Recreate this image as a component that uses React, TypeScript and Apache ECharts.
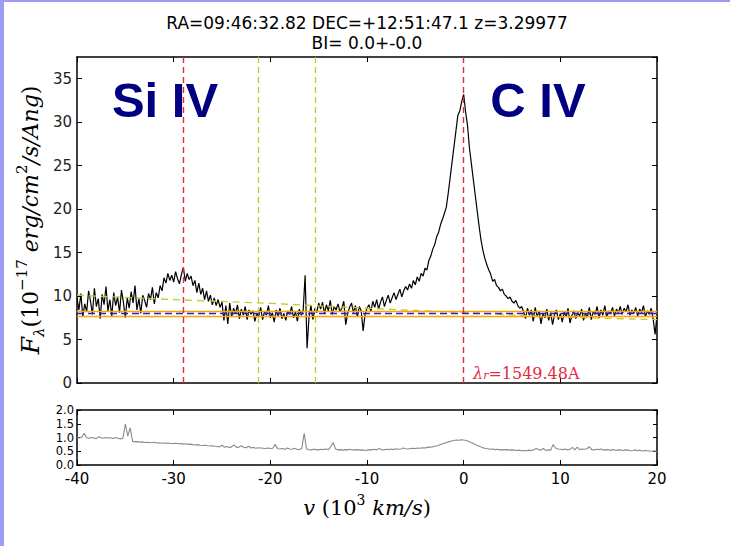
import React, { useEffect, useRef } from "react";
import * as echarts from "echarts";

// ---- data ----
const V_START = -40;
const V_STEP = 0.2; // 10^3 km/s per flux sample
const flux = [
  // -40.0 .. -33.0
  9.8, 8.4, 10.3, 7.6, 9.1, 8.2, 10.6, 9.4, 7.9, 10.9, 8.8, 9.7, 7.4, 10.2, 9.0, 11.1, 8.3, 9.6, 7.7, 10.4,
  8.9, 9.9, 8.1, 10.7, 9.3, 7.5, 9.8, 8.6, 10.5, 9.2, 11.2, 8.4, 9.7, 8.0, 10.1, 9.5,
  // -32.8 .. -31.6
  8.7, 10.3, 9.6, 11.0, 9.1, 10.4, 9.8,
  // -31.4 .. -28.0 (Si IV bump)
  11.2, 10.6, 12.1, 11.5, 12.6, 11.8, 12.4, 11.6, 12.8, 12.0, 11.4, 12.5, 13.3, 11.7, 12.6, 11.9, 12.3, 11.2,
  // -27.8 .. -25.0
  11.8, 10.4, 11.5, 10.2, 10.9, 9.6, 10.6, 9.4, 10.1, 9.0, 9.8, 8.9, 9.6, 8.7, 9.3,
  // -24.8 .. -22.0
  7.2, 8.9, 6.8, 9.2, 7.6, 8.6, 8.0, 9.0, 7.4, 8.5, 7.8, 8.8, 7.3, 8.4, 7.9,
  // -21.8 .. -16.8
  8.3, 7.1, 8.0, 7.6, 8.7, 7.3, 8.2, 7.8, 8.9, 7.5, 8.1, 7.0, 8.4, 7.7, 8.6, 7.4, 8.0, 7.2, 8.3, 7.9,
  8.8, 7.5, 8.2, 7.1, 8.5, 7.8,
  // -16.6 .. -15.0
  8.4, 12.4, 4.0, 7.6, 8.9, 7.3, 8.6, 8.1, 9.2,
  // -14.8 .. -10.0
  8.5, 9.3, 8.0, 9.0, 8.3, 9.5, 7.9, 8.8, 8.4, 9.1, 8.2, 8.6, 9.4, 6.7, 8.0, 8.7, 9.2, 8.1, 8.9, 7.6,
  8.8, 8.3, 6.0, 7.9, 8.6,
  // -9.8 .. -6.0
  9.0, 8.2, 9.4, 8.7, 9.6, 8.5, 9.3, 9.9, 8.8, 9.5, 10.1, 9.2, 9.8, 10.4, 9.6, 10.2, 10.8, 9.9, 10.6, 11.1,
  // -5.8 .. -2.0
  10.7, 11.4, 10.9, 11.8, 11.3, 12.2, 11.7, 12.6, 12.3, 13.2, 13.0, 14.1, 14.6, 15.4, 15.9, 16.8, 17.3, 18.2, 18.8, 19.5,
  // -1.8 .. 0.0 (C IV peak)
  20.2, 21.8, 23.6, 25.4, 27.2, 29.0, 30.8, 31.3, 32.4, 33.2,
  // 0.2 .. 2.0
  31.2, 29.6, 27.0, 25.2, 23.4, 21.6, 19.8, 18.0, 16.4, 15.2,
  // 2.2 .. 6.0
  14.3, 13.6, 13.0, 12.5, 11.7, 11.9, 11.2, 11.0, 10.6, 10.8, 10.2, 10.0, 9.7, 9.9, 9.4, 9.2, 9.5, 8.9, 8.6, 8.8,
  // 6.2 .. 20.0
  8.2, 7.4, 8.6, 7.8, 8.4, 7.1, 8.7, 7.6, 8.3, 6.8,
  8.0, 7.5, 8.5, 7.2, 8.1, 6.7, 7.9, 8.4, 7.3, 8.0,
  7.0, 8.2, 7.6, 8.6, 6.9, 7.8, 8.3, 7.4, 8.1, 7.7,
  8.5, 7.2, 8.0, 7.6, 8.7, 7.3, 8.2, 7.9, 8.8, 7.5,
  8.4, 7.8, 8.9, 7.6, 8.3, 8.0, 8.7, 7.7, 8.5, 8.1,
  8.8, 7.9, 8.6, 8.2, 9.0, 7.8, 8.4, 8.0, 8.7, 7.7,
  8.5, 8.1, 8.9, 7.6, 8.3, 7.9, 8.6, 7.4, 5.6, 7.8,
];

const ERR_STEP = 0.25;
const fluxErr = [
  1.0, 0.98, 1.02, 1.15, 0.99, 0.97, 1.0, 0.98, 0.96, 1.03, 0.99, 0.97, 1.0, 0.98, 0.99, 0.96, 1.0, 0.97, 0.95, 0.97,
  1.5, 1.05, 1.35, 0.86, 0.84, 0.85, 0.83, 0.84, 0.82, 0.83, 0.82, 0.81, 0.83, 0.8, 0.81, 0.8, 0.79, 0.8, 0.79, 0.78,
  0.78, 0.79, 0.77, 0.78, 0.76, 0.77, 0.75, 0.76, 0.74, 0.73, 0.74, 0.72, 0.71, 0.72, 0.7, 0.69, 0.7, 0.68, 0.67, 0.66,
  0.72, 0.65, 0.67, 0.64, 0.66, 0.73, 0.64, 0.65, 0.7, 0.64, 0.63, 0.68, 0.62, 0.64, 0.61, 0.63, 0.62, 0.61, 0.6, 0.62,
  0.6, 0.61, 0.75, 0.59, 0.58, 0.6, 0.57, 0.62, 0.58, 0.57, 0.61, 0.57, 0.56, 0.6, 1.15, 0.58, 0.56, 0.55, 0.57, 0.56,
  0.55, 0.57, 0.56, 0.58, 0.56, 0.66, 0.82, 0.58, 0.55, 0.56, 0.54, 0.56, 0.55, 0.57, 0.54, 0.55, 0.56, 0.54, 0.55, 0.53,
  0.54, 0.56, 0.55, 0.57, 0.55, 0.6, 0.56, 0.55, 0.57, 0.56, 0.58, 0.56, 0.59, 0.57, 0.58, 0.62, 0.59, 0.58, 0.6, 0.61,
  0.6, 0.62, 0.61, 0.63, 0.62, 0.64, 0.65, 0.66, 0.68, 0.7, 0.73, 0.76, 0.79, 0.82, 0.85, 0.87, 0.89, 0.91, 0.9, 0.92,
  0.91, 0.89, 0.86, 0.82, 0.78, 0.74, 0.7, 0.66, 0.63, 0.6, 0.59, 0.57, 0.58, 0.56, 0.57, 0.55, 0.56, 0.55, 0.56, 0.54,
  0.55, 0.54, 0.53, 0.54, 0.52, 0.53, 0.52, 0.54, 0.53, 0.55, 0.6, 0.56, 0.54, 0.6, 0.53, 0.55, 0.54, 0.74, 0.62, 0.58,
  0.57, 0.56, 0.58, 0.55, 0.57, 0.64, 0.55, 0.65, 0.56, 0.58, 0.57, 0.59, 0.67, 0.56, 0.55, 0.57, 0.56, 0.58, 0.54, 0.56,
  0.55, 0.54, 0.56, 0.53, 0.55, 0.54, 0.53, 0.55, 0.54, 0.52, 0.53, 0.55, 0.52, 0.54, 0.51, 0.53, 0.52, 0.51, 0.5, 0.52, 0.48,
];

const contV = [-40, -30, -20, -10, 0, 10, 20];
const contF = [10.1, 9.6, 9.15, 8.6, 8.1, 7.6, 7.3];

const redLines = [-29, 0];
const yellowLines = [-21.3, -15.4];
const orangeLevels = [8.3, 7.7];
const blueLevel = 8.0;

const titleLines = ["RA=09:46:32.82 DEC=+12:51:47.1 z=3.29977", "BI= 0.0+-0.0"];
const lineNames = ["Si IV", "C IV"];
const restWave = "1549.48A";

// ---- styles ----
const RED = "#e42a40";
const YEL = "#c8c828";
const ORANGE = "#ffa500";
const BLUE = "#2020e0";
const NAVY = "#000080";
const SANS = "DejaVu Sans";
const SERIF = "DejaVu Serif";

export default function App() {
  const ref = useRef<HTMLDivElement>(null);

  useEffect(() => {
    document.body.style.margin = "0";
    const chart = echarts.init(ref.current!, null, { renderer: "svg" });

    const specData = flux.map((f, i) => [+(V_START + i * V_STEP).toFixed(2), f]);
    const errData = fluxErr.map((e, i) => [+(V_START + i * ERR_STEP).toFixed(2), e]);
    const contData = contV.map((v, i) => [v, contF[i]]);

    const frame = { show: true, onZero: false, lineStyle: { color: "#000", width: 1.5 } };
    const tick = { show: true, inside: true, length: 5, lineStyle: { color: "#000", width: 1 } };

    const xCommon = {
      type: "value",
      min: -40,
      max: 20,
      interval: 10,
      axisLine: frame,
      axisTick: tick,
      splitLine: { show: false },
    };

    const markLines = [
      ...orangeLevels.map((y) => ({ yAxis: y, lineStyle: { color: ORANGE, type: "solid", width: 1.3 } })),
      { yAxis: blueLevel, lineStyle: { color: BLUE, type: [7, 4], width: 1.4 } },
      ...redLines.map((x) => ({ xAxis: x, lineStyle: { color: RED, type: [6, 4], width: 1.4 } })),
      ...yellowLines.map((x) => ({ xAxis: x, lineStyle: { color: YEL, type: [6, 4], width: 1.3 } })),
    ];

    chart.setOption({
      animation: false,
      backgroundColor: "#fff",
      grid: [
        { left: 77, top: 57, width: 580, height: 326 },
        { left: 77, top: 410, width: 580, height: 55 },
      ],
      xAxis: [
        { ...xCommon, gridIndex: 0, position: "bottom", axisLabel: { show: false } },
        { ...xCommon, gridIndex: 0, position: "top", axisLabel: { show: false } },
        {
          ...xCommon,
          gridIndex: 1,
          position: "bottom",
          axisLabel: { show: true, color: "#000", fontFamily: SANS, fontSize: 15, lineHeight: 13, margin: 7 },
        },
        { ...xCommon, gridIndex: 1, position: "top", axisLabel: { show: false } },
      ],
      yAxis: [
        {
          type: "value",
          gridIndex: 0,
          position: "left",
          min: 0,
          max: 37.5,
          interval: 5,
          axisLine: frame,
          axisTick: tick,
          splitLine: { show: false },
          axisLabel: {
            color: "#222",
            fontFamily: SANS,
            fontSize: 15,
            margin: 5,
            showMaxLabel: false,
            formatter: (v: number) => (v % 5 === 0 ? String(v) : ""),
          },
        },
        {
          type: "value",
          gridIndex: 0,
          position: "right",
          min: 0,
          max: 37.5,
          interval: 5,
          axisLine: frame,
          axisTick: tick,
          splitLine: { show: false },
          axisLabel: { show: false },
        },
        {
          type: "value",
          gridIndex: 1,
          position: "left",
          min: 0,
          max: 2,
          interval: 0.5,
          axisLine: frame,
          axisTick: { ...tick, length: 4 },
          splitLine: { show: false },
          axisLabel: {
            color: "#000",
            fontFamily: SANS,
            fontSize: 11.5,
            lineHeight: 12,
            margin: 3,
            showMinLabel: true,
            showMaxLabel: true,
            hideOverlap: false,
            formatter: (v: number) => v.toFixed(1),
          },
        },
        {
          type: "value",
          gridIndex: 1,
          position: "right",
          min: 0,
          max: 2,
          interval: 0.5,
          axisLine: frame,
          axisTick: { ...tick, length: 4 },
          splitLine: { show: false },
          axisLabel: { show: false },
        },
      ],
      series: [
        {
          type: "line",
          xAxisIndex: 0,
          yAxisIndex: 0,
          data: specData,
          showSymbol: false,
          symbol: "none",
          lineStyle: { color: "#000", width: 1.2 },
          z: 2,
        },
        {
          type: "line",
          xAxisIndex: 0,
          yAxisIndex: 0,
          data: contData,
          smooth: 0.4,
          showSymbol: false,
          symbol: "none",
          lineStyle: { color: YEL, width: 1.3, type: [7, 5] },
          z: 3,
        },
        {
          type: "line",
          xAxisIndex: 0,
          yAxisIndex: 0,
          data: [],
          z: 4,
          markLine: {
            silent: true,
            symbol: ["none", "none"],
            label: { show: false },
            data: markLines,
          },
        },
        {
          type: "line",
          xAxisIndex: 2,
          yAxisIndex: 2,
          data: errData,
          showSymbol: false,
          symbol: "none",
          lineStyle: { color: "#8a8a8a", width: 1.1 },
        },
      ],
      graphic: [
        { type: "rect", shape: { x: 0, y: 0, width: 4, height: 546 }, style: { fill: "#9c9cf2" }, silent: true },
        { type: "rect", shape: { x: 0, y: 0, width: 730, height: 2 }, style: { fill: "#9c9cf2" }, silent: true },
        {
          type: "text",
          x: 367,
          y: 33,
          style: {
            text: titleLines.join("\n"),
            fontFamily: SANS,
            fontSize: 17,
            lineHeight: 20,
            fill: "#000",
            align: "center",
            verticalAlign: "middle",
          },
        },
        {
          type: "text",
          x: 165,
          y: 100,
          z: 10,
          style: {
            text: lineNames[0],
            fontFamily: "Liberation Sans",
            fontWeight: "bold",
            fontSize: 49,
            fill: NAVY,
            align: "center",
            verticalAlign: "middle",
          },
        },
        {
          type: "text",
          x: 538,
          y: 100,
          z: 10,
          style: {
            text: lineNames[1],
            fontFamily: "Liberation Sans",
            fontWeight: "bold",
            fontSize: 49,
            fill: NAVY,
            align: "center",
            verticalAlign: "middle",
          },
        },
        {
          type: "text",
          x: 473,
          y: 373,
          z: 10,
          style: {
            text: "{it|λ}{sub|r}{n|=" + restWave + "}",
            fill: RED,
            align: "left",
            verticalAlign: "middle",
            rich: {
              it: { fontFamily: SERIF, fontStyle: "italic", fontSize: 16, fill: RED, verticalAlign: "top" },
              sub: { fontFamily: SERIF, fontStyle: "italic", fontSize: 11, fill: RED, verticalAlign: "bottom" },
              n: { fontFamily: SERIF, fontSize: 16, fill: RED, verticalAlign: "top" },
            },
          },
        },
        {
          type: "text",
          x: 30,
          y: 220,
          rotation: Math.PI / 2,
          style: {
            text: "{F|F}{sub|λ}{n|(10}{sup|−17}{it| erg/cm}{sup|2}{it|/s/Ang}{n|)}",
            fill: "#000",
            align: "center",
            verticalAlign: "middle",
            rich: {
              F: { fontFamily: SERIF, fontStyle: "italic", fontSize: 25, fill: "#000", lineHeight: 32, verticalAlign: "middle" },
              sub: { fontFamily: SERIF, fontStyle: "italic", fontSize: 15, fill: "#000", verticalAlign: "bottom" },
              n: { fontFamily: SERIF, fontSize: 22, fill: "#000", verticalAlign: "middle" },
              sup: { fontFamily: SERIF, fontSize: 15, fill: "#000", verticalAlign: "top" },
              it: { fontFamily: SERIF, fontStyle: "italic", fontSize: 22, fill: "#000", verticalAlign: "middle" },
            },
          },
        },
        {
          type: "text",
          x: 367,
          y: 508,
          style: {
            text: "{it|v}{n| (10}{sup|3}{it| km/s}{n|)}",
            fill: "#000",
            align: "center",
            verticalAlign: "middle",
            rich: {
              it: { fontFamily: SERIF, fontStyle: "italic", fontSize: 21, fill: "#000", lineHeight: 30, verticalAlign: "middle" },
              n: { fontFamily: SERIF, fontSize: 21, fill: "#000", verticalAlign: "middle" },
              sup: { fontFamily: SERIF, fontSize: 14, fill: "#000", verticalAlign: "top" },
            },
          },
        },
      ],
    });

    return () => chart.dispose();
  }, []);

  return <div ref={ref} style={{ width: 730, height: 546 }} />;
}
